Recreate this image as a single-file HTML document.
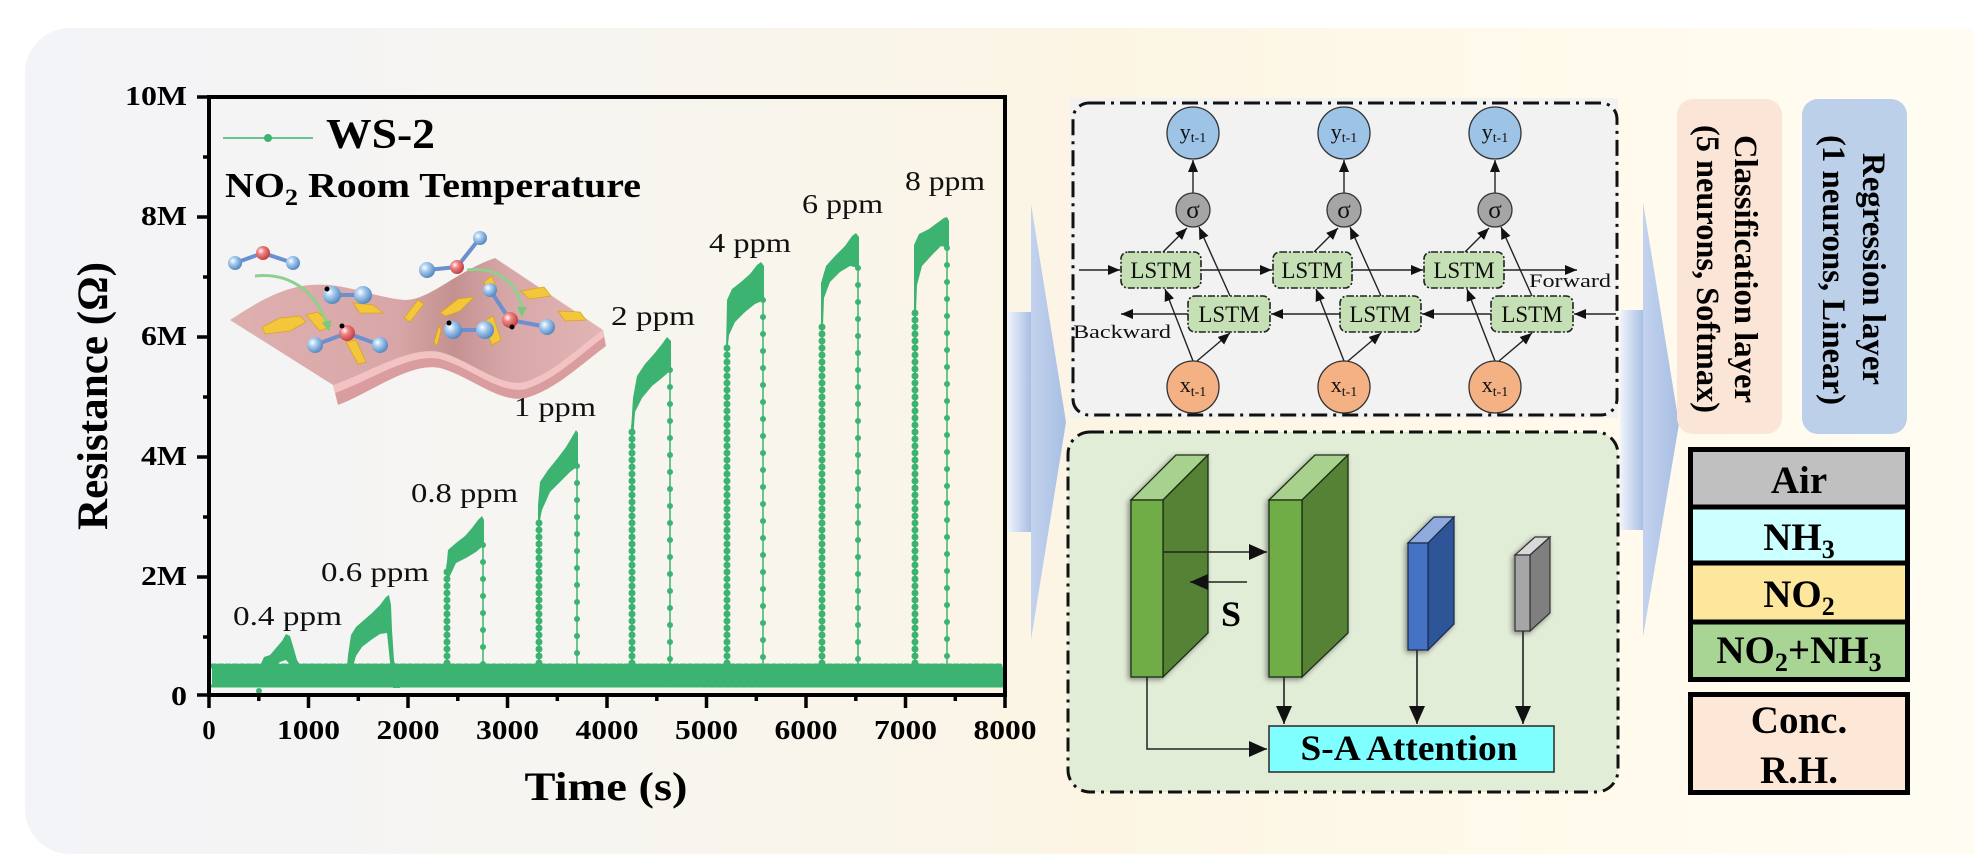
<!DOCTYPE html>
<html><head><meta charset="utf-8"><style>
html,body{margin:0;padding:0;background:#fff;}
svg{display:block;}
svg text{font-family:"Liberation Serif","Times New Roman",serif;}
</style></head><body>
<svg width="1974" height="856" viewBox="0 0 1974 856" xmlns="http://www.w3.org/2000/svg">
<defs>
<linearGradient id="bg" gradientUnits="userSpaceOnUse" x1="25" y1="0" x2="1974" y2="0">
<stop offset="0" stop-color="#f3f4f8"/><stop offset="0.3" stop-color="#f7f5f0"/><stop offset="0.55" stop-color="#fcf5e4"/><stop offset="0.8" stop-color="#fffaeb"/><stop offset="1" stop-color="#fffcf3"/>
</linearGradient>
<linearGradient id="shaft" x1="0" y1="0" x2="1" y2="0"><stop offset="0" stop-color="#f1f5fc"/><stop offset="1" stop-color="#a9bfe4"/></linearGradient>
<linearGradient id="tri" x1="0" y1="0" x2="1" y2="0"><stop offset="0" stop-color="#c3d3ee"/><stop offset="1" stop-color="#a8bee3"/></linearGradient>
<radialGradient id="sb" cx="0.35" cy="0.35" r="0.7"><stop offset="0" stop-color="#ffffff"/><stop offset="0.35" stop-color="#a9cdf0"/><stop offset="1" stop-color="#4f83bd"/></radialGradient>
<radialGradient id="sr" cx="0.35" cy="0.35" r="0.7"><stop offset="0" stop-color="#ffffff"/><stop offset="0.35" stop-color="#f08484"/><stop offset="1" stop-color="#c03a3a"/></radialGradient>
<linearGradient id="sheet" x1="0" y1="0" x2="1" y2="0"><stop offset="0" stop-color="#dfb0b0"/><stop offset="0.45" stop-color="#d8a6a6"/><stop offset="0.6" stop-color="#c49191"/><stop offset="0.75" stop-color="#d8a8a8"/><stop offset="1" stop-color="#e2b4b4"/></linearGradient>
<marker id="ah" markerUnits="userSpaceOnUse" markerWidth="12" markerHeight="10" viewBox="0 0 12 10" refX="12" refY="5" orient="auto"><path d="M0,0 L12,5 L0,10 z" fill="#111"/></marker>
<marker id="ahL" markerUnits="userSpaceOnUse" markerWidth="18" markerHeight="16" viewBox="0 0 18 16" refX="18" refY="8" orient="auto"><path d="M0,0 L18,8 L0,16 z" fill="#111"/></marker>
<marker id="ahG" markerUnits="userSpaceOnUse" markerWidth="10" markerHeight="10" viewBox="0 0 10 10" refX="9" refY="5" orient="auto"><path d="M0,0 L10,5 L0,10 z" fill="#7cc77c"/></marker>
<filter id="sh" x="-30%" y="-10%" width="160%" height="120%"><feGaussianBlur in="SourceAlpha" stdDeviation="3"/><feOffset dx="-2" dy="2"/><feComponentTransfer><feFuncA type="linear" slope="0.45"/></feComponentTransfer><feMerge><feMergeNode/><feMergeNode in="SourceGraphic"/></feMerge></filter>
</defs>

<rect width="1974" height="856" fill="#ffffff"/>
<rect x="25" y="28" width="2000" height="826" rx="45" fill="url(#bg)"/>

<!-- ===== PLOT ===== -->
<g>
<path d="M333,385 C370,372 410,346 440,352 C470,360 500,388 525,382 C555,372 575,350 603,330 L606,346 C578,367 556,389 526,398 C500,404 470,376 440,368 C410,362 372,392 338,405 Z" fill="#d99d9f"/>
<path d="M333,385 C370,372 410,346 440,352 C470,360 500,388 525,382 C555,372 575,350 603,330 L604,337 C577,357 556,379 526,389 C500,395 470,367 440,359 C410,353 371,380 335,393 Z" fill="#f3c2c3"/>
<path d="M230,320 C260,300 285,287 310,285 C345,282 375,298 405,300 C430,300 455,272 495,258 L603,330 C575,350 555,372 525,382 C500,388 470,360 440,352 C410,346 370,372 333,385 Z" fill="url(#sheet)"/>
<g fill="#f4c63c" stroke="#d8a51d" stroke-width="0.8">
<polygon points="262,327 280,318 300,316 306,322 290,331 265,334"/>
<polygon points="306,315 318,312 331,326 320,331"/>
<polygon points="353,303 373,305 383,313 360,313"/>
<polygon points="346,342 356,340 366,362 358,364"/>
<polygon points="404,318 418,300 424,304 410,322"/>
<polygon points="440,313 458,299 474,297 460,311 446,316"/>
<polygon points="434,342 439,326 441,330 437,346"/>
<polygon points="521,291 544,287 551,296 529,299"/>
<polygon points="558,311 580,312 586,320 565,321"/>
<polygon points="483,322 493,316 501,340 492,345"/>
<polygon points="484,282 492,276 497,290 489,294"/>
</g>
<g stroke="#6c8fd0" stroke-width="4">
<line x1="235" y1="263" x2="263" y2="253"/><line x1="263" y1="253" x2="293" y2="263"/>
<line x1="332" y1="295" x2="363" y2="295"/>
<line x1="315" y1="345" x2="347" y2="333"/><line x1="347" y1="333" x2="380" y2="345"/>
<line x1="427" y1="270" x2="457" y2="267"/><line x1="457" y1="267" x2="480" y2="238"/>
<line x1="453" y1="330" x2="485" y2="330"/>
<line x1="490" y1="290" x2="510" y2="320"/><line x1="510" y1="320" x2="547" y2="327"/>
</g>
<path d="M255,276 C290,272 318,292 329,330" fill="none" stroke="#8fd08f" stroke-width="3" marker-end="url(#ahG)"/>
<path d="M467,270 C500,266 522,286 522,316" fill="none" stroke="#8fd08f" stroke-width="3" marker-end="url(#ahG)"/>
<g>
<circle cx="235" cy="263" r="7" fill="url(#sb)"/><circle cx="263" cy="253" r="7" fill="url(#sr)"/><circle cx="293" cy="263" r="7" fill="url(#sb)"/>
<circle cx="332" cy="295" r="9" fill="url(#sb)"/><circle cx="363" cy="295" r="9" fill="url(#sb)"/><circle cx="327" cy="289" r="2.5" fill="#000"/>
<circle cx="315" cy="345" r="8" fill="url(#sb)"/><circle cx="347" cy="333" r="8" fill="url(#sr)"/><circle cx="380" cy="345" r="8" fill="url(#sb)"/><circle cx="342" cy="326" r="2.5" fill="#000"/>
<circle cx="427" cy="270" r="8" fill="url(#sb)"/><circle cx="457" cy="267" r="7" fill="url(#sr)"/><circle cx="480" cy="238" r="7" fill="url(#sb)"/>
<circle cx="453" cy="330" r="9" fill="url(#sb)"/><circle cx="485" cy="330" r="9" fill="url(#sb)"/><circle cx="449" cy="323" r="2.5" fill="#000"/>
<circle cx="490" cy="290" r="7" fill="url(#sb)"/><circle cx="510" cy="320" r="8" fill="url(#sr)"/><circle cx="547" cy="327" r="8" fill="url(#sb)"/><circle cx="512" cy="327" r="2.5" fill="#000"/>
</g>
</g>

<g fill="#3cb371" stroke="none">
<line x1="212" y1="676" x2="1003" y2="676" stroke="#3cb371" stroke-width="18"/>
<line x1="212" y1="666" x2="1003" y2="666" stroke="#3cb371" stroke-width="5" stroke-dasharray="4 3" stroke-linecap="round"/>
<line x1="212" y1="686" x2="1003" y2="686" stroke="#3cb371" stroke-width="3" stroke-dasharray="6 2" stroke-linecap="round"/>
<line x1="259" y1="677" x2="259" y2="693" stroke="#3cb371" stroke-width="6" stroke-dasharray="0 7" stroke-linecap="round"/>
<polygon points="259,668 264,657 270,655 276,648 282,641 286,634 290,636 293,646 297,660 302,668 304,684 296,680 291,666 286,660 280,662 273,668 266,674 260,680"/>
<polygon points="346,678 348,655 351,635 356,627 364,620 372,613 380,605 386,597 389,595 391,605 392,630 394,660 398,675 400,688 393,688 390,662 387,633 380,634 371,640 362,647 356,656 352,670 350,682"/>
<polygon points="446,572 448,550 456,543 465,536 472,528 478,520 482,516 484,520 484,545 476,552 466,558 456,563 449,578"/>
<polygon points="538,505 540,482 548,470 557,459 566,447 572,437 576,430 578,433 578,466 570,472 560,482 550,492 542,510 538,530"/>
<polygon points="631,430 633,398 637,376 645,364 654,354 662,344 667,337 671,341 671,370 662,378 652,386 642,398 635,412 633,440"/>
<polygon points="726,350 727,300 732,289 741,282 750,274 757,265 761,262 764,266 764,300 755,304 745,312 735,322 729,335 727,355"/>
<polygon points="821,323 821,283 826,266 835,256 845,246 852,236 856,233 859,237 859,268 850,266 840,272 830,282 824,298 823,325"/>
<polygon points="914,312 914,245 919,234 929,229 937,223 944,218 947,217 949,221 949,248 941,246 932,255 922,266 917,285 916,312"/>
</g>
<g stroke="#3cb371" fill="none" stroke-linecap="round">
<g stroke-width="1.5">
<line x1="447" y1="677" x2="447" y2="565"/><line x1="483" y1="545" x2="483" y2="680"/>
<line x1="539" y1="677" x2="539" y2="520"/><line x1="577" y1="466" x2="577" y2="680"/>
<line x1="632" y1="677" x2="632" y2="425"/><line x1="670" y1="370" x2="670" y2="680"/>
<line x1="727" y1="677" x2="727" y2="345"/><line x1="763" y1="300" x2="763" y2="680"/>
<line x1="822" y1="677" x2="822" y2="320"/><line x1="858" y1="268" x2="858" y2="680"/>
<line x1="915" y1="677" x2="915" y2="310"/><line x1="947" y1="248" x2="947" y2="680"/>
</g>
<g stroke-width="7" stroke-dasharray="0 7">
<line x1="447" y1="677" x2="447" y2="565"/>
<line x1="539" y1="677" x2="539" y2="520"/>
<line x1="632" y1="677" x2="632" y2="425"/>
<line x1="727" y1="677" x2="727" y2="345"/>
<line x1="822" y1="677" x2="822" y2="320"/>
<line x1="915" y1="677" x2="915" y2="310"/>
</g>
<g stroke-width="6" stroke-dasharray="0 17">
<line x1="483" y1="545" x2="483" y2="680"/>
<line x1="577" y1="466" x2="577" y2="680"/>
<line x1="670" y1="370" x2="670" y2="680"/>
<line x1="763" y1="300" x2="763" y2="680"/>
<line x1="858" y1="268" x2="858" y2="680"/>
<line x1="947" y1="248" x2="947" y2="680"/>
</g>
</g>

<rect x="209" y="97" width="796" height="598" fill="none" stroke="#000" stroke-width="4"/>
<g stroke="#000" stroke-width="3.5">
<line x1="197" y1="97" x2="209" y2="97"/><line x1="197" y1="217" x2="209" y2="217"/><line x1="197" y1="337" x2="209" y2="337"/><line x1="197" y1="457" x2="209" y2="457"/><line x1="197" y1="577" x2="209" y2="577"/><line x1="197" y1="695" x2="209" y2="695"/>
<line x1="203" y1="157" x2="209" y2="157"/><line x1="203" y1="277" x2="209" y2="277"/><line x1="203" y1="397" x2="209" y2="397"/><line x1="203" y1="517" x2="209" y2="517"/><line x1="203" y1="637" x2="209" y2="637"/>
<line x1="209" y1="695" x2="209" y2="708"/><line x1="308.5" y1="695" x2="308.5" y2="708"/><line x1="408" y1="695" x2="408" y2="708"/><line x1="507.5" y1="695" x2="507.5" y2="708"/><line x1="607" y1="695" x2="607" y2="708"/><line x1="706.5" y1="695" x2="706.5" y2="708"/><line x1="806" y1="695" x2="806" y2="708"/><line x1="905.5" y1="695" x2="905.5" y2="708"/><line x1="1005" y1="695" x2="1005" y2="708"/>
<line x1="258.8" y1="695" x2="258.8" y2="701"/><line x1="358.3" y1="695" x2="358.3" y2="701"/><line x1="457.8" y1="695" x2="457.8" y2="701"/><line x1="557.3" y1="695" x2="557.3" y2="701"/><line x1="656.8" y1="695" x2="656.8" y2="701"/><line x1="756.3" y1="695" x2="756.3" y2="701"/><line x1="855.8" y1="695" x2="855.8" y2="701"/><line x1="955.3" y1="695" x2="955.3" y2="701"/>
</g>
<g font-weight="bold" font-size="27" fill="#000" text-anchor="end">
<text x="187" y="105" textLength="62" lengthAdjust="spacingAndGlyphs">10M</text>
<text x="187" y="225" textLength="46" lengthAdjust="spacingAndGlyphs">8M</text>
<text x="187" y="345" textLength="46" lengthAdjust="spacingAndGlyphs">6M</text>
<text x="187" y="465" textLength="46" lengthAdjust="spacingAndGlyphs">4M</text>
<text x="187" y="585" textLength="46" lengthAdjust="spacingAndGlyphs">2M</text>
<text x="187" y="705" textLength="16" lengthAdjust="spacingAndGlyphs">0</text>
</g>
<g font-weight="bold" font-size="27" fill="#000" text-anchor="middle">
<text x="209" y="739">0</text>
<text x="308.5" y="739" textLength="63" lengthAdjust="spacingAndGlyphs">1000</text>
<text x="408" y="739" textLength="63" lengthAdjust="spacingAndGlyphs">2000</text>
<text x="507.5" y="739" textLength="63" lengthAdjust="spacingAndGlyphs">3000</text>
<text x="607" y="739" textLength="63" lengthAdjust="spacingAndGlyphs">4000</text>
<text x="706.5" y="739" textLength="63" lengthAdjust="spacingAndGlyphs">5000</text>
<text x="806" y="739" textLength="63" lengthAdjust="spacingAndGlyphs">6000</text>
<text x="905.5" y="739" textLength="63" lengthAdjust="spacingAndGlyphs">7000</text>
<text x="1005" y="739" textLength="63" lengthAdjust="spacingAndGlyphs">8000</text>
</g>
<text x="606" y="800" font-weight="bold" font-size="40" text-anchor="middle" textLength="163" lengthAdjust="spacingAndGlyphs">Time (s)</text>
<text transform="translate(107,396) rotate(-90)" font-weight="bold" font-size="43" text-anchor="middle" textLength="268" lengthAdjust="spacingAndGlyphs">Resistance (Ω)</text>
<line x1="223" y1="138" x2="313" y2="138" stroke="#3cb371" stroke-width="1.5"/>
<circle cx="268" cy="138" r="4" fill="#3cb371"/>
<text x="326" y="148" font-weight="bold" font-size="42" textLength="109" lengthAdjust="spacingAndGlyphs">WS-2</text>
<text x="225" y="197" font-weight="bold" font-size="35" textLength="416" lengthAdjust="spacingAndGlyphs">NO<tspan font-size="23" dy="8">2</tspan><tspan dy="-8"> Room Temperature</tspan></text>
<g font-size="27" fill="#111">
<text x="233" y="625" textLength="109" lengthAdjust="spacingAndGlyphs">0.4 ppm</text>
<text x="321" y="581" textLength="108" lengthAdjust="spacingAndGlyphs">0.6 ppm</text>
<text x="411" y="502" textLength="107" lengthAdjust="spacingAndGlyphs">0.8 ppm</text>
<text x="514" y="416" textLength="82" lengthAdjust="spacingAndGlyphs">1 ppm</text>
<text x="611" y="325" textLength="84" lengthAdjust="spacingAndGlyphs">2 ppm</text>
<text x="709" y="252" textLength="82" lengthAdjust="spacingAndGlyphs">4 ppm</text>
<text x="802" y="213" textLength="81" lengthAdjust="spacingAndGlyphs">6 ppm</text>
<text x="905" y="190" textLength="80" lengthAdjust="spacingAndGlyphs">8 ppm</text>
</g>

<!-- ===== BLUE ARROWS ===== -->
<rect x="1007" y="312" width="24" height="220" fill="url(#shaft)"/>
<polygon points="1031,204 1066,422 1031,640" fill="url(#tri)"/>
<rect x="1620" y="310" width="23" height="220" fill="url(#shaft)"/>
<polygon points="1643,202 1679,424 1643,637" fill="url(#tri)"/>

<!-- ===== LSTM PANEL ===== -->
<rect x="1070" y="98" width="548" height="320" fill="#f2f2f2"/>
<rect x="1073" y="103" width="544" height="312" rx="16" fill="none" stroke="#111" stroke-width="3" stroke-dasharray="16 6 3 6"/>
<g stroke="#222" stroke-width="1.4" fill="none" marker-end="url(#ah)">
<line x1="1079" y1="270" x2="1120" y2="270"/><line x1="1201" y1="270" x2="1272" y2="270"/><line x1="1352" y1="270" x2="1423" y2="270"/><line x1="1504" y1="270" x2="1577" y2="270"/>
<line x1="1616" y1="314" x2="1574" y2="314"/><line x1="1491" y1="314" x2="1422" y2="314"/><line x1="1340" y1="314" x2="1271" y2="314"/><line x1="1188" y1="314" x2="1121" y2="314"/>
<line x1="1193" y1="193" x2="1193" y2="160"/><line x1="1344" y1="193" x2="1344" y2="160"/><line x1="1495" y1="193" x2="1495" y2="160"/>
<line x1="1193" y1="361" x2="1165" y2="289"/><line x1="1197" y1="361" x2="1230" y2="333"/><line x1="1163" y1="252" x2="1187" y2="228"/><line x1="1230" y1="296" x2="1199" y2="227"/>
<line x1="1344" y1="361" x2="1316" y2="289"/><line x1="1348" y1="361" x2="1381" y2="333"/><line x1="1314" y1="252" x2="1338" y2="228"/><line x1="1381" y1="296" x2="1350" y2="227"/>
<line x1="1495" y1="361" x2="1467" y2="289"/><line x1="1499" y1="361" x2="1532" y2="333"/><line x1="1465" y1="252" x2="1489" y2="228"/><line x1="1532" y1="296" x2="1501" y2="227"/>
</g>
<g fill="#c5e0b4" stroke="#222" stroke-width="1.6" stroke-dasharray="7 2 2 2">
<rect x="1121" y="252" width="80" height="36" rx="7"/><rect x="1273" y="252" width="79" height="36" rx="7"/><rect x="1424" y="252" width="80" height="36" rx="7"/>
<rect x="1188" y="296" width="82" height="36" rx="7"/><rect x="1340" y="296" width="81" height="36" rx="7"/><rect x="1491" y="296" width="82" height="36" rx="7"/>
</g>
<g font-size="23" fill="#111" text-anchor="middle">
<text x="1161" y="278">LSTM</text><text x="1312" y="278">LSTM</text><text x="1464" y="278">LSTM</text>
<text x="1229" y="322">LSTM</text><text x="1380" y="322">LSTM</text><text x="1532" y="322">LSTM</text>
</g>
<g stroke="#333" stroke-width="1.3">
<circle cx="1193" cy="133" r="26" fill="#9dc3e6"/><circle cx="1344" cy="133" r="26" fill="#9dc3e6"/><circle cx="1495" cy="133" r="26" fill="#9dc3e6"/>
<circle cx="1193" cy="210" r="17" fill="#a5a5a5"/><circle cx="1344" cy="210" r="17" fill="#a5a5a5"/><circle cx="1495" cy="210" r="17" fill="#a5a5a5"/>
<circle cx="1193" cy="387" r="26" fill="#f4b183"/><circle cx="1344" cy="387" r="26" fill="#f4b183"/><circle cx="1495" cy="387" r="26" fill="#f4b183"/>
</g>
<g font-size="22" fill="#111" text-anchor="middle">
<text x="1193" y="139">y<tspan font-size="14" dy="3">t-1</tspan></text>
<text x="1344" y="139">y<tspan font-size="14" dy="3">t-1</tspan></text>
<text x="1495" y="139">y<tspan font-size="14" dy="3">t-1</tspan></text>
<text x="1193" y="392">x<tspan font-size="14" dy="4">t-1</tspan></text>
<text x="1344" y="392">x<tspan font-size="14" dy="4">t-1</tspan></text>
<text x="1495" y="392">x<tspan font-size="14" dy="4">t-1</tspan></text>
<text x="1193" y="218" font-size="25">σ</text>
<text x="1344" y="218" font-size="25">σ</text>
<text x="1495" y="218" font-size="25">σ</text>
</g>
<text x="1529" y="287" font-size="19" fill="#111" textLength="82" lengthAdjust="spacingAndGlyphs">Forward</text>
<text x="1073" y="338" font-size="19" fill="#111" textLength="98" lengthAdjust="spacingAndGlyphs">Backward</text>

<!-- ===== ATTENTION PANEL ===== -->
<rect x="1068" y="432" width="550" height="360" rx="22" fill="#e2edd8" stroke="#111" stroke-width="3" stroke-dasharray="14 6 3 6"/>
<g stroke="#222" stroke-width="1.5" fill="none">
<polyline points="1147,677 1147,749 1267,749" marker-end="url(#ahL)"/>
</g>
<g filter="url(#sh)" stroke="#1f2f14" stroke-width="1.3">
<polygon points="1131,500 1163,500 1208,455 1176,455" fill="#a9d18e"/>
<polygon points="1163,500 1208,455 1208,633 1163,677" fill="#548235"/>
<rect x="1131" y="500" width="32" height="177" fill="#70ad47"/>
</g>
<g filter="url(#sh)" stroke="#1f2f14" stroke-width="1.3">
<polygon points="1269,500 1302,500 1348,455 1315,455" fill="#a9d18e"/>
<polygon points="1302,500 1348,455 1348,633 1302,677" fill="#548235"/>
<rect x="1269" y="500" width="33" height="177" fill="#70ad47"/>
</g>
<g filter="url(#sh)" stroke="#1a2a4a" stroke-width="1.2">
<polygon points="1408,543 1428,543 1454,517 1434,517" fill="#8faadc"/>
<polygon points="1428,543 1454,517 1454,624 1428,650" fill="#2f5597"/>
<rect x="1408" y="543" width="20" height="107" fill="#4472c4"/>
</g>
<g filter="url(#sh)" stroke="#333" stroke-width="1.2">
<polygon points="1515,555 1530,555 1550,537 1535,537" fill="#d9d9d9"/>
<polygon points="1530,555 1550,537 1550,613 1530,631" fill="#7f7f7f"/>
<rect x="1515" y="555" width="15" height="76" fill="#a6a6a6"/>
</g>
<g stroke="#222" stroke-width="1.6" fill="none" marker-end="url(#ahL)">
<line x1="1163" y1="552" x2="1267" y2="552"/>
<line x1="1247" y1="582" x2="1190" y2="582"/>
<line x1="1284" y1="677" x2="1284" y2="724"/>
<line x1="1417" y1="650" x2="1417" y2="724"/>
<line x1="1523" y1="631" x2="1523" y2="724"/>
</g>
<text x="1231" y="626" font-weight="bold" font-size="36" text-anchor="middle">S</text>
<rect x="1269" y="726" width="285" height="46" fill="#7fffff" stroke="#333" stroke-width="1.6"/>
<text x="1409" y="760" font-weight="bold" font-size="36" text-anchor="middle" textLength="217" lengthAdjust="spacingAndGlyphs">S-A Attention</text>

<!-- ===== RIGHT PANELS ===== -->
<rect x="1677" y="99" width="105" height="335" rx="16" fill="#fbe5d6"/>
<rect x="1802" y="99" width="105" height="335" rx="16" fill="#bdd0ea"/>
<g font-weight="bold" font-size="33" fill="#000" text-anchor="middle">
<text transform="translate(1735,269) rotate(90)" textLength="268" lengthAdjust="spacingAndGlyphs">Classification layer</text>
<text transform="translate(1697,269) rotate(90)" textLength="288" lengthAdjust="spacingAndGlyphs">(5 neurons, Softmax)</text>
<text transform="translate(1863,269) rotate(90)" textLength="232" lengthAdjust="spacingAndGlyphs">Regression layer</text>
<text transform="translate(1823,270) rotate(90)" textLength="270" lengthAdjust="spacingAndGlyphs">(1 neurons, Linear)</text>
</g>

<rect x="1690" y="449" width="218" height="58" fill="#c0c0c0"/>
<rect x="1690" y="507" width="218" height="56" fill="#ccffff"/>
<rect x="1690" y="563" width="218" height="59" fill="#fce79d"/>
<rect x="1690" y="622" width="218" height="58" fill="#a9d594"/>
<rect x="1690.5" y="449.5" width="217" height="230" fill="none" stroke="#000" stroke-width="5"/>
<g stroke="#000" stroke-width="5">
<line x1="1690" y1="507" x2="1908" y2="507"/><line x1="1690" y1="563" x2="1908" y2="563"/><line x1="1690" y1="622" x2="1908" y2="622"/>
</g>
<rect x="1690.5" y="694.5" width="217" height="98" fill="#fde8d8" stroke="#000" stroke-width="5"/>
<g font-weight="bold" font-size="39" fill="#000" text-anchor="middle">
<text x="1799" y="493">Air</text>
<text x="1799" y="550">NH<tspan font-size="26" dy="8">3</tspan></text>
<text x="1799" y="607">NO<tspan font-size="26" dy="8">2</tspan></text>
<text x="1799" y="663">NO<tspan font-size="26" dy="8">2</tspan><tspan dy="-8">+NH</tspan><tspan font-size="26" dy="8">3</tspan></text>
<text x="1799" y="733">Conc.</text>
<text x="1799" y="783">R.H.</text>
</g>
</svg>
</body></html>
